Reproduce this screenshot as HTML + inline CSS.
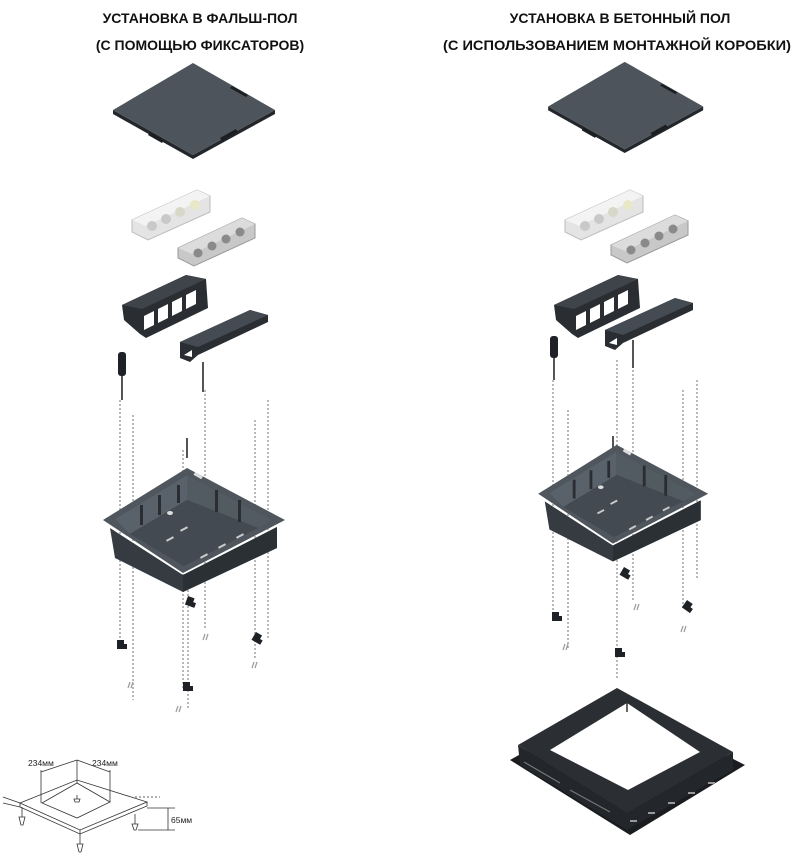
<!DOCTYPE html>
<html><head><meta charset="utf-8"><style>
html,body{margin:0;padding:0;background:#fff;width:794px;height:859px;overflow:hidden}
svg{display:block}
text{font-family:"Liberation Sans",sans-serif}
</style></head><body>
<svg width="794" height="859" viewBox="0 0 794 859" xmlns="http://www.w3.org/2000/svg">
<defs>
<g id="lid">
  <polygon points="113,110 193,155 275,110 275,114 193,159 113,114" fill="#23272b"/>
  <polygon points="193,63 275,110 193,155 113,110" fill="#4d545b"/>
  <polygon points="232,86 248,95 246,97 230,88" fill="#1c1f22"/>
  <polygon points="150,132 164,140 162,143 148,135" fill="#1c1f22"/>
  <polygon points="220,138 236,129 238,132 222,141" fill="#1c1f22"/>
</g>
<g id="sock1">
  <polygon points="132,220 197,190 210,196 210,212 148,240 132,232" fill="#e4e4e4" stroke="#bdbdbd" stroke-width="1"/>
  <polygon points="132,220 197,190 210,196 146,226" fill="#f3f3f3"/>
  <circle cx="152" cy="226" r="5" fill="#c9c9c9"/><circle cx="166" cy="219" r="5" fill="#c9c9c9"/>
  <circle cx="180" cy="212" r="5" fill="#d8d8c8"/><circle cx="195" cy="205" r="5" fill="#e8e8c8"/>
</g>
<g id="sock2">
  <polygon points="178,248 242,218 255,224 255,238 194,266 178,258" fill="#c8c8c8" stroke="#9a9a9a" stroke-width="1"/>
  <polygon points="178,248 242,218 255,224 192,254" fill="#dcdcdc"/>
  <circle cx="198" cy="253" r="4.5" fill="#8a8a8a"/><circle cx="212" cy="246" r="4.5" fill="#8a8a8a"/>
  <circle cx="226" cy="239" r="4.5" fill="#8a8a8a"/><circle cx="240" cy="232" r="4.5" fill="#8a8a8a"/>
</g>
<g id="frame1">
  <polygon points="122,305 186,275 206,279 208,308 146,338 140,334 124,320" fill="#2a2e33"/>
  <polygon points="122,305 186,275 206,279 142,309" fill="#3e444a"/>
  <polygon points="144,316 154,311 154,325 144,330" fill="#fff"/>
  <polygon points="158,309 168,304 168,318 158,323" fill="#fff"/>
  <polygon points="172,302 182,297 182,311 172,316" fill="#fff"/>
  <polygon points="186,295 196,290 196,304 186,309" fill="#fff"/>
</g>
<g id="frame2">
  <polygon points="180,342 250,310 268,315 268,322 198,355 190,362 180,358" fill="#2a2e33"/>
  <polygon points="180,342 250,310 268,315 198,347" fill="#454b52"/>
  <polygon points="184,355 192,350 192,357" fill="#fff"/>
</g>
<g id="box">
  <polygon points="110,528 183,575 277,527 277,548 183,592 115,558" fill="#353b41"/>
  <polygon points="183,575 277,527 277,548 183,592" fill="#2b3035"/>
  <polygon points="103,520 187,468 285,520 183,573" fill="#4f565d"/>
  <polygon points="115,519 187,475 273,520 184,566" fill="#3a4046"/>
  <polygon points="115,519 187,475 187,500 130,534" fill="#59616a"/>
  <polygon points="187,475 273,520 258,528 187,500" fill="#525a62"/>
  <polygon points="130,534 187,500 258,528 184,566" fill="#434a51"/>
  <rect x="140" y="505" width="3" height="20" fill="#2a2e33"/><rect x="158" y="495" width="3" height="20" fill="#2a2e33"/>
  <rect x="177" y="485" width="3" height="18" fill="#2a2e33"/><rect x="215" y="490" width="3" height="22" fill="#2a2e33"/>
  <rect x="238" y="500" width="3" height="22" fill="#2a2e33"/>
  <rect x="200" y="555" width="8" height="2" fill="#ccc" transform="rotate(-28 204 556)"/>
  <rect x="218" y="545" width="8" height="2" fill="#ccc" transform="rotate(-28 222 546)"/>
  <rect x="236" y="535" width="8" height="2" fill="#ccc" transform="rotate(-28 240 536)"/>
  <rect x="166" y="538" width="8" height="2" fill="#ccc" transform="rotate(-28 170 539)"/>
  <rect x="180" y="528" width="8" height="2" fill="#ccc" transform="rotate(-28 184 529)"/>
  <ellipse cx="170" cy="513" rx="3" ry="2" fill="#ddd"/>
  <rect x="194" y="474" width="9" height="3" fill="#ddd" transform="rotate(30 198 475)"/>
</g>
<g id="clip"><path d="M0,0 h7 v4 h3 v5 h-10 z" fill="#1e2226"/></g>
<g id="spring"><path d="M0,0 l2,-6 M3,0 l2,-6" stroke="#999" stroke-width="1.2" fill="none"/></g>
</defs>

<text x="200" y="23" font-size="14" font-weight="bold" text-anchor="middle" fill="#111">УСТАНОВКА В ФАЛЬШ-ПОЛ</text>
<text x="200" y="50" font-size="14" font-weight="bold" text-anchor="middle" fill="#111">(С ПОМОЩЬЮ ФИКСАТОРОВ)</text>
<text x="620" y="23" font-size="14" font-weight="bold" text-anchor="middle" fill="#111">УСТАНОВКА В БЕТОННЫЙ ПОЛ</text>
<text x="617" y="50" font-size="14" font-weight="bold" text-anchor="middle" fill="#111" textLength="348" lengthAdjust="spacingAndGlyphs">(С ИСПОЛЬЗОВАНИЕМ МОНТАЖНОЙ КОРОБКИ)</text>

<!-- LEFT -->
<use href="#lid"/>
<use href="#sock1"/><use href="#sock2"/>
<use href="#frame1"/><use href="#frame2"/>
<g stroke="#a0a0a0" stroke-width="1.5" stroke-dasharray="2,2" fill="none">
  <line x1="120" y1="400" x2="120" y2="640"/><line x1="133" y1="415" x2="133" y2="700"/>
  <line x1="183" y1="450" x2="183" y2="690"/><line x1="205" y1="390" x2="205" y2="630"/>
  <line x1="255" y1="420" x2="255" y2="660"/><line x1="268" y1="400" x2="268" y2="640"/>
  <line x1="188" y1="590" x2="188" y2="710"/>
</g>
<use href="#box"/>
<rect x="118" y="352" width="8" height="24" rx="3" fill="#1e2226"/>
<rect x="121" y="376" width="2" height="24" fill="#555"/>
<rect x="202" y="362" width="2" height="30" fill="#555"/>
<rect x="186" y="438" width="2" height="20" fill="#555"/>
<use href="#clip" transform="translate(188,596) rotate(20)"/>
<use href="#clip" transform="translate(117,640)"/>
<use href="#clip" transform="translate(256,632) rotate(30)"/>
<use href="#clip" transform="translate(183,682)"/>
<use href="#spring" transform="translate(203,640)"/>
<use href="#spring" transform="translate(252,668)"/>
<use href="#spring" transform="translate(128,688)"/>
<use href="#spring" transform="translate(176,712)"/>

<!-- RIGHT -->
<use href="#lid" transform="translate(440,2) scale(0.957,0.95)"/>
<use href="#sock1" transform="translate(433,0)"/><use href="#sock2" transform="translate(433,-3)"/>
<use href="#frame1" transform="translate(432,0)"/><use href="#frame2" transform="translate(425,-12)"/>
<g stroke="#a0a0a0" stroke-width="1.5" stroke-dasharray="2,2" fill="none">
  <line x1="553" y1="380" x2="553" y2="610"/><line x1="568" y1="410" x2="568" y2="650"/>
  <line x1="617" y1="360" x2="617" y2="680"/><line x1="633" y1="370" x2="633" y2="600"/>
  <line x1="683" y1="390" x2="683" y2="610"/><line x1="697" y1="380" x2="697" y2="580"/>
</g>
<use href="#box" transform="translate(442,5) scale(0.934,0.94)"/>
<rect x="550" y="336" width="8" height="22" rx="3" fill="#1e2226"/>
<rect x="553" y="358" width="2" height="22" fill="#555"/>
<rect x="632" y="340" width="2" height="28" fill="#555"/>
<rect x="612" y="436" width="2" height="18" fill="#555"/>
<use href="#clip" transform="translate(624,567) rotate(30)"/>
<use href="#clip" transform="translate(552,612)"/>
<use href="#clip" transform="translate(687,600) rotate(35)"/>
<use href="#clip" transform="translate(615,648)"/>
<use href="#spring" transform="translate(634,610)"/>
<use href="#spring" transform="translate(681,632)"/>
<use href="#spring" transform="translate(563,650)"/>

<!-- Bottom right frame -->
<polygon points="510,760 617,700 745,765 630,835" fill="#1a1c1f"/>
<polygon points="518,745 627,813 733,752 733,770 627,830 520,765" fill="#23262a"/>
<polygon points="617,688 733,752 627,813 518,745" fill="#2b2f33"/>
<polygon points="627,703 700,752 628,790 550,750" fill="#fff"/>
<line x1="627" y1="703" x2="627" y2="712" stroke="#333" stroke-width="1.5"/>
<g stroke="#777" stroke-width="1.2"><line x1="524" y1="762" x2="560" y2="783"/><line x1="570" y1="790" x2="610" y2="812"/></g>
<g fill="#999"><rect x="648" y="812" width="7" height="2"/><rect x="668" y="802" width="7" height="2"/><rect x="688" y="792" width="7" height="2"/><rect x="708" y="782" width="7" height="2"/><rect x="630" y="820" width="7" height="2"/></g>

<!-- Bottom left floor diagram -->
<g stroke="#333" stroke-width="0.8" fill="none">
  <polygon points="20,803 77,780 147,802 80,830" fill="#fff"/>
  <polyline points="20,803 20,807 80,834 147,806 147,802"/>
  <line x1="80" y1="830" x2="80" y2="834"/>
  <polygon points="42,803 77,783 110,802 77,818" fill="#fff"/>
  <line x1="3" y1="797" x2="20" y2="803"/><line x1="3" y1="803" x2="20" y2="807"/>
  <line x1="41" y1="770" x2="41" y2="803"/><line x1="77" y1="760" x2="77" y2="783"/><line x1="110" y1="770" x2="110" y2="802"/>
  <line x1="41" y1="772" x2="77" y2="760"/><line x1="77" y1="760" x2="110" y2="772"/>
  <line x1="147" y1="808" x2="175" y2="808"/><line x1="138" y1="830" x2="175" y2="830"/>
  <line x1="168" y1="808" x2="168" y2="830"/>
  <line x1="135" y1="797" x2="160" y2="797" stroke-dasharray="2,2"/>
  <path d="M22,807 v10 m-3,0 h6 l-2,8 h-2 z M80,834 v10 m-3,0 h6 l-2,8 h-2 z M135,814 v10 m-3,0 h6 l-2,6 h-2 z M77,795 v4 m-3,0 h6 l-1,3 h-4 z"/>
</g>
<text x="28" y="766" font-size="8.5" fill="#222">234мм</text>
<text x="92" y="766" font-size="8.5" fill="#222">234мм</text>
<text x="171" y="823" font-size="8.5" fill="#222">65мм</text>
</svg>
</body></html>
